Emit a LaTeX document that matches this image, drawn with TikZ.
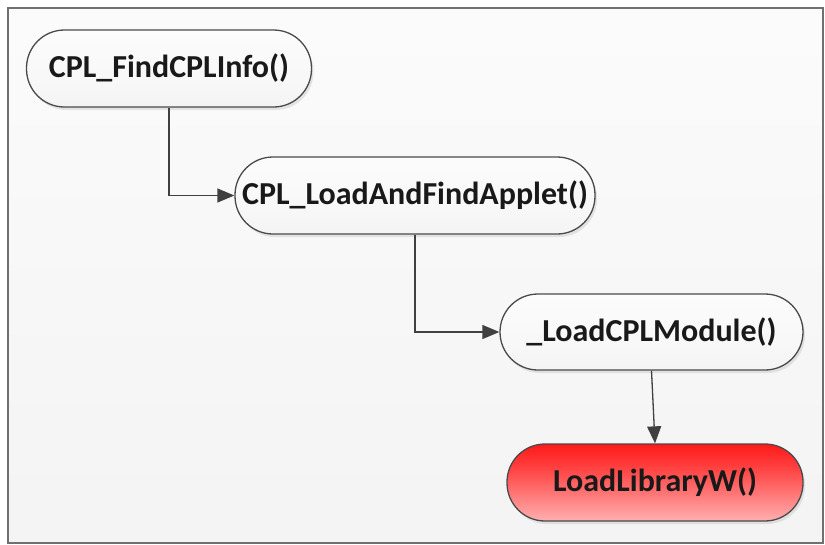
\documentclass[tikz,border=0pt]{standalone}
\usepackage{fontspec}
\setmainfont{Carlito}
\usetikzlibrary{arrows.meta,shadows}
\pgfdeclareverticalshading{redfade}{100bp}{color(0bp)=(red!6!white); color(20bp)=(red!25!white); color(60bp)=(red!75!white); color(85bp)=(red); color(100bp)=(red)}
\pgfdeclareverticalshading{whitefade}{100bp}{color(0bp)=(black!7!white); color(40bp)=(black!3!white); color(100bp)=(white)}
\pgfdeclareverticalshading{bgfade}{100bp}{color(0bp)=(black!6!white); color(100bp)=(white)}
\definecolor{edgegray}{HTML}{4A4A4A}
\definecolor{linegray}{HTML}{404040}
\definecolor{framegray}{HTML}{707070}
\tikzset{
  flowbox/.style={rectangle, rounded corners=38pt, draw=edgegray, line width=1.3pt,
    inner sep=0pt, align=center, text=black!90,
    font=\fontsize{32}{38}\selectfont\bfseries,
    drop shadow={opacity=0.18, shadow xshift=2pt, shadow yshift=-3pt}},
  whitebox/.style={flowbox, shading=whitefade},
  redbox/.style={flowbox, shading=redfade},
  conn/.style={draw=linegray, line width=1.3pt, -{Triangle[length=17pt,width=14pt]}}
}
\begin{document}
\begin{tikzpicture}[x=1pt,y=-1pt]
\useasboundingbox (0,0) rectangle (825,544);
\shade[shading=bgfade, draw=framegray, line width=1.8pt] (8,8) rectangle (823,543);
\node[whitebox, minimum width=285pt, minimum height=77pt] (n1) at (169,68.5) {CPL\_FindCPLInfo()};
\node[whitebox, minimum width=360pt, minimum height=77pt] (n2) at (415,195.5) {CPL\_LoadAndFindApplet()};
\node[whitebox, minimum width=303pt, minimum height=76pt] (n3) at (651.5,332) {\_LoadCPLModule()};
\node[redbox, minimum width=296pt, minimum height=77pt] (n4) at (655,482.5) {LoadLibraryW()};
\draw[conn] (n1.south) |- (n2.west);
\draw[conn] (n2.south) |- (n3.west);
\draw[conn] (n3.south) -- (n4.north);
\end{tikzpicture}
\end{document}
